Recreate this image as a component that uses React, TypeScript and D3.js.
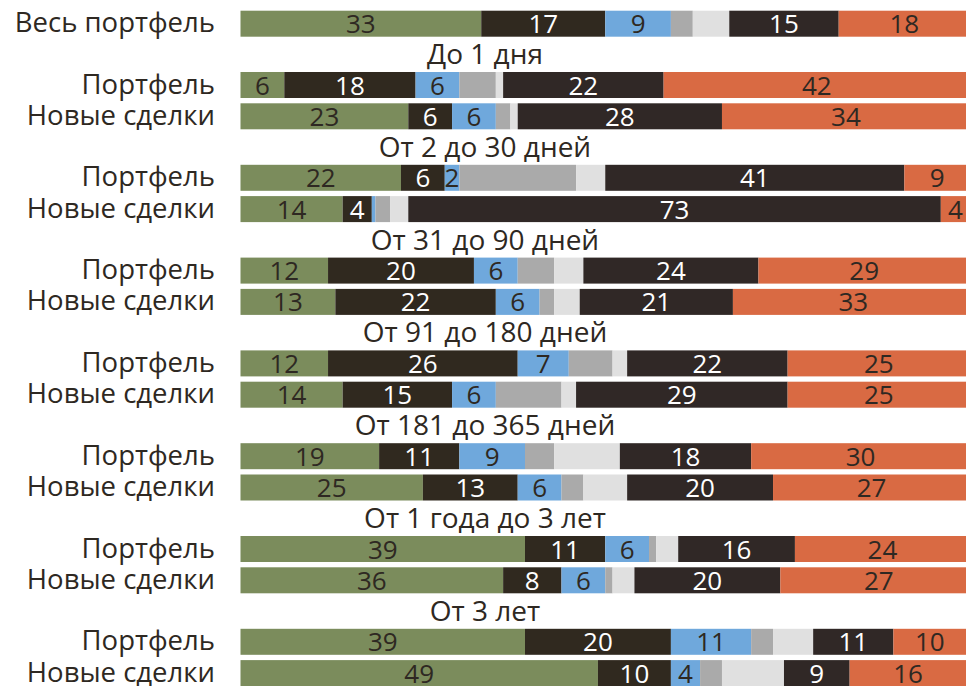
import React from "react";
import * as d3 from "d3";

const rowNames = [
  "Весь портфель",
  "Портфель", "Новые сделки",
  "Портфель", "Новые сделки",
  "Портфель", "Новые сделки",
  "Портфель", "Новые сделки",
  "Портфель", "Новые сделки",
  "Портфель", "Новые сделки",
  "Портфель", "Новые сделки",
];
const groupTitles = [
  "До 1 дня",
  "От 2 до 30 дней",
  "От 31 до 90 дней",
  "От 91 до 180 дней",
  "От 181 до 365 дней",
  "От 1 года до 3 лет",
  "От 3 лет",
];
const seriesKeys = ["s1", "s2", "s3", "s4", "s5", "s6", "s7"];
const s1 = [33, 6, 23, 22, 14, 12, 13, 12, 14, 19, 25, 39, 36, 39, 49];
const s2 = [17, 18, 6, 6, 4, 20, 22, 26, 15, 11, 13, 11, 8, 20, 10];
const s3 = [9, 6, 6, 2, 0.5, 6, 6, 7, 6, 9, 6, 6, 6, 11, 4];
const s4 = [3, 5, 2, 16, 2, 5, 2, 6, 9, 4, 3, 1, 1, 3, 3];
const s5 = [5, 1, 1, 4, 2.5, 4, 3.5, 2, 2, 9, 6, 3, 3, 5.5, 8.5];
const s6 = [15, 22, 28, 41, 73, 24, 21, 22, 29, 18, 20, 16, 20, 11, 9];
const s7 = [18, 42, 34, 9, 4, 29, 33, 25, 25, 30, 27, 24, 27, 10, 16];
const seriesValues = [s1, s2, s3, s4, s5, s6, s7];

const colors = ["#7b8c5c", "#30291f", "#6fa8dc", "#aaaaaa", "#e0e0e0", "#302826", "#d96a43"];
const labelled = [true, true, true, false, false, true, true];
const textDark = "#2e2822";

const W = 966;
const H = 686;
const FONT = "'Open Sans', 'Noto Sans', sans-serif";

export default function App() {
  const table = rowNames.map((name, i) => {
    const o: any = { idx: i, name };
    seriesKeys.forEach((k, j) => (o[k] = seriesValues[j][i]));
    return o;
  });
  const stack = d3.stack<any>().keys(seriesKeys)(table);
  const x = d3.scaleLinear().domain([0, 100]).range([240.5, 970]);
  const barH = 26;
  const rowTop = (i: number) => {
    if (i === 0) return 10.7;
    const g = Math.floor((i - 1) / 2);
    const sub = (i - 1) % 2;
    return 72 + g * 92.8 + sub * 31.3;
  };
  const numFs = 26;
  const labFs = 27.5;
  const titleFs = 28;

  return (
    <svg width={W} height={H} style={{ position: "absolute", left: 0, top: 0, background: "#fff" }} fontFamily={FONT}>
      {stack.map((layer, si) => (
        <g key={seriesKeys[si]}>
          {layer.map((d, ri) => {
            const x0 = x(d[0]);
            const x1 = x(d[1]);
            return <rect key={ri} x={x0} y={rowTop(ri)} width={Math.max(0, x1 - x0)} height={barH} fill={colors[si]} />;
          })}
        </g>
      ))}
      {stack.map((layer, si) =>
        labelled[si]
          ? layer.map((d, ri) => {
              const v = d[1] - d[0];
              if (v < 1.5) return null;
              const cx = (x(d[0]) + x(d[1])) / 2;
              const fill = si === 1 || si === 5 ? "#ffffff" : textDark;
              return (
                <text key={`${si}-${ri}`} x={cx} y={rowTop(ri) + 22.5} textAnchor="middle" fontSize={numFs} fill={fill}>
                  {Math.round(v)}
                </text>
              );
            })
          : null
      )}
      {rowNames.map((n, i) => (
        <text key={`l${i}`} x={215} y={rowTop(i) + 21.5} textAnchor="end" fontSize={labFs} fill={textDark}>
          {n}
        </text>
      ))}
      {groupTitles.map((t, g) => (
        <text key={`t${g}`} x={485} y={72 + g * 92.8 - 8} textAnchor="middle" fontSize={titleFs} fill={textDark}>
          {t}
        </text>
      ))}
    </svg>
  );
}
